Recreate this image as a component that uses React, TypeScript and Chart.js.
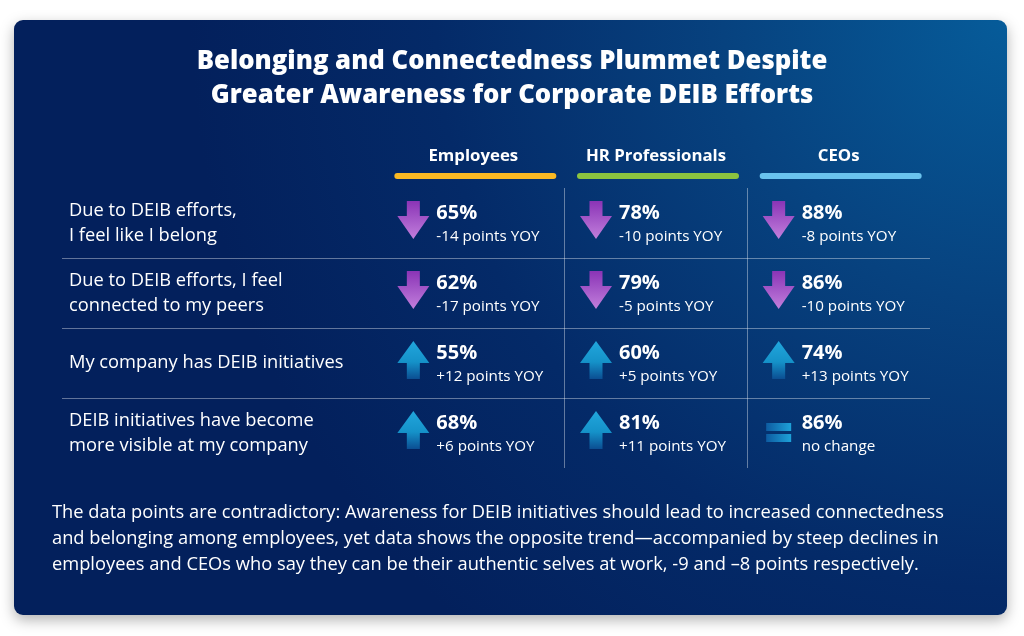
import React, { useEffect, useRef } from 'react';
import { Chart, registerables } from 'chart.js';

Chart.register(...registerables);

const TITLE_LINES = [
  'Belonging and Connectedness Plummet Despite',
  'Greater Awareness for Corporate DEIB Efforts',
];
const GROUPS = ['Employees', 'HR Professionals', 'CEOs'];
const GROUP_COLORS = ['#fbb923', '#8cc43f', '#6ac3ee'];
const STATEMENTS = [
  'Due to DEIB efforts,|I feel like I belong',
  'Due to DEIB efforts, I feel|connected to my peers',
  'My company has DEIB initiatives',
  'DEIB initiatives have become|more visible at my company',
];
const EMPLOYEES_PCT = [65, 62, 55, 68];
const EMPLOYEES_CHANGE = [-14, -17, 12, 6];
const HR_PCT = [78, 79, 60, 81];
const HR_CHANGE = [-10, -5, 5, 11];
const CEO_PCT = [88, 86, 74, 86];
const CEO_CHANGE = [-8, -10, 13, 0];
const FOOTNOTE = [
  'The data points are contradictory: Awareness for DEIB initiatives should lead to increased connectedness',
  'and belonging among employees, yet data shows the opposite trend\u2014accompanied by steep declines in',
  'employees and CEOs who say they can be their authentic selves at work, -9 and \u20138 points respectively.',
];

const SERIES_PCT = [EMPLOYEES_PCT, HR_PCT, CEO_PCT];
const SERIES_CHANGE = [EMPLOYEES_CHANGE, HR_CHANGE, CEO_CHANGE];

const FONT = '"Open Sans", "Noto Sans", sans-serif';
const LINE_COLOR = 'rgba(255,255,255,0.38)';

function drawDownArrow(ctx: CanvasRenderingContext2D, cx: number, cy: number) {
  const top = cy - 19;
  const g = ctx.createLinearGradient(0, top, 0, top + 38);
  g.addColorStop(0, '#8a34b6');
  g.addColorStop(1, '#c27fdc');
  ctx.fillStyle = g;
  ctx.beginPath();
  ctx.moveTo(cx - 6.5, top);
  ctx.lineTo(cx + 6.5, top);
  ctx.lineTo(cx + 6.5, top + 15);
  ctx.lineTo(cx + 16, top + 15);
  ctx.lineTo(cx, top + 38);
  ctx.lineTo(cx - 16, top + 15);
  ctx.lineTo(cx - 6.5, top + 15);
  ctx.closePath();
  ctx.fill();
}

function drawUpArrow(ctx: CanvasRenderingContext2D, cx: number, cy: number) {
  const top = cy - 19;
  const g = ctx.createLinearGradient(0, top, 0, top + 38);
  g.addColorStop(0, '#21a6dc');
  g.addColorStop(0.55, '#1592c9');
  g.addColorStop(1, '#0b4e92');
  ctx.fillStyle = g;
  ctx.beginPath();
  ctx.moveTo(cx, top);
  ctx.lineTo(cx + 16, top + 22);
  ctx.lineTo(cx + 6.5, top + 22);
  ctx.lineTo(cx + 6.5, top + 38);
  ctx.lineTo(cx - 6.5, top + 38);
  ctx.lineTo(cx - 6.5, top + 22);
  ctx.lineTo(cx - 16, top + 22);
  ctx.closePath();
  ctx.fill();
}

function drawEquals(ctx: CanvasRenderingContext2D, cx: number, cy: number) {
  const g = ctx.createLinearGradient(cx - 13, 0, cx + 13, 0);
  g.addColorStop(0, '#0d5aa0');
  g.addColorStop(1, '#1ea3da');
  ctx.fillStyle = g;
  ctx.fillRect(cx - 12.5, cy - 10, 25, 8);
  ctx.fillRect(cx - 12.5, cy + 1, 25, 8);
}

const tablePlugin = {
  id: 'deibTable',
  beforeDraw(chart: any) {
    const { ctx, width, height } = chart;
    ctx.save();
    ctx.fillStyle = '#ffffff';
    ctx.fillRect(0, 0, width, height);
    ctx.shadowColor = 'rgba(0,0,0,0.30)';
    ctx.shadowBlur = 14;
    ctx.shadowOffsetY = 5;
    const g = ctx.createRadialGradient(1010, 15, 0, 1010, 15, 820);
    g.addColorStop(0, '#065c9a');
    g.addColorStop(0.35, '#07427f');
    g.addColorStop(0.7, '#042a68');
    g.addColorStop(1, '#03205c');
    ctx.fillStyle = g;
    ctx.beginPath();
    ctx.roundRect(14, 20, 993, 595, 9);
    ctx.fill();
    ctx.restore();

    ctx.save();
    ctx.fillStyle = '#ffffff';
    ctx.textAlign = 'center';
    ctx.textBaseline = 'alphabetic';
    ctx.font = `800 25.7px ${FONT}`;
    TITLE_LINES.forEach((line, i) => {
      ctx.fillText(line, width / 2, 69 + i * 34);
    });
    ctx.restore();
  },
  afterDatasetsDraw(chart: any) {
    const { ctx } = chart;
    ctx.save();
    chart.data.datasets.forEach((ds: any, di: number) => {
      const meta = chart.getDatasetMeta(di);
      meta.data.forEach((pt: any, ri: number) => {
        const { x, y } = pt.getProps(['x', 'y'], true);
        const pct = ds.pct[ri];
        const change = ds.change[ri];
        const iconX = x - 60;
        if (change < 0) drawDownArrow(ctx, iconX, y - 3);
        else if (change > 0) drawUpArrow(ctx, iconX, y - 3);
        else drawEquals(ctx, iconX, y);
        const tx = x - 37;
        ctx.fillStyle = '#ffffff';
        ctx.textAlign = 'left';
        ctx.textBaseline = 'alphabetic';
        ctx.font = `bold 20px ${FONT}`;
        ctx.fillText(`${pct}%`, tx, y - 4);
        ctx.font = `15.2px ${FONT}`;
        const sub = change === 0 ? 'no change' : `${change > 0 ? '+' : ''}${change} points YOY`;
        ctx.fillText(sub, tx, y + 18);
      });
    });
    ctx.restore();
  },
  afterDraw(chart: any) {
    const { ctx } = chart;
    const xs = chart.scales.x;
    ctx.save();
    ctx.lineCap = 'round';
    ctx.lineWidth = 6;
    GROUPS.forEach((g, i) => {
      const px = xs.getPixelForTick(i) + 2;
      ctx.strokeStyle = GROUP_COLORS[i];
      ctx.beginPath();
      ctx.moveTo(px - 78, 176);
      ctx.lineTo(px + 78, 176);
      ctx.stroke();
    });
    ctx.fillStyle = '#ffffff';
    ctx.textAlign = 'left';
    ctx.textBaseline = 'alphabetic';
    ctx.font = `18.3px ${FONT}`;
    FOOTNOTE.forEach((line, i) => {
      ctx.fillText(line, 52, 518 + i * 26);
    });
    ctx.restore();
  },
};

export default function App() {
  const ref = useRef<HTMLCanvasElement>(null);
  useEffect(() => {
    if (!ref.current) return;
    const chart = new Chart(ref.current, {
      type: 'scatter',
      data: {
        datasets: GROUPS.map((g, gi) => ({
          label: g,
          data: STATEMENTS.map((s) => ({ x: g, y: s })),
          pointRadius: 0,
          pct: SERIES_PCT[gi],
          change: SERIES_CHANGE[gi],
        })) as any,
      },
      options: {
        animation: false,
        responsive: false,
        events: [],
        layout: { padding: { left: 69, right: 94, top: 140, bottom: 168 } },
        plugins: { legend: { display: false }, tooltip: { enabled: false }, title: { display: false } },
        scales: {
          x: {
            type: 'category',
            labels: GROUPS,
            position: 'top',
            offset: true,
            afterFit: (s: any) => { s.height = 48; },
            border: { display: false },
            grid: {
              offset: true,
              drawTicks: false,
              lineWidth: 1,
              color: (c: any) => (c.index > 0 && c.index < GROUPS.length ? LINE_COLOR : 'transparent'),
            },
            ticks: {
              color: '#ffffff',
              padding: 22,
              font: { family: FONT, size: 16.8, weight: 'bold' },
            },
          },
          y: {
            type: 'category',
            labels: STATEMENTS,
            offset: true,
            afterFit: (s: any) => { s.width = 313; },
            border: { display: false },
            grid: {
              offset: true,
              drawTicks: true,
              tickLength: 320,
              lineWidth: 1,
              color: (c: any) => (c.index > 0 && c.index < STATEMENTS.length ? LINE_COLOR : 'transparent'),
              tickColor: (c: any) => (c.index > 0 && c.index < STATEMENTS.length ? LINE_COLOR : 'transparent'),
            },
            ticks: {
              color: '#ffffff',
              crossAlign: 'far',
              autoSkip: false,
              font: { family: FONT, size: 18.3, lineHeight: 1.36 },
              callback: function (this: any, value: any) {
                return String(this.getLabelForValue(value)).split('|');
              },
            },
          },
        } as any,
      },
      plugins: [tablePlugin],
    });
    return () => chart.destroy();
  }, []);
  return (
    <div style={{ position: 'absolute', left: 0, top: 0, width: 1024, height: 636 }}>
      <canvas ref={ref} width={1024} height={636} style={{ display: 'block', width: 1024, height: 636 }} />
    </div>
  );
}
